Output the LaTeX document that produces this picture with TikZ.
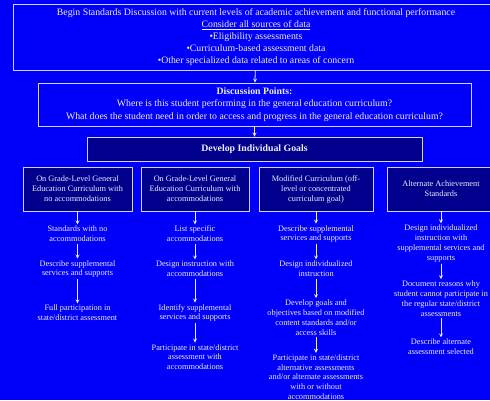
\documentclass[tikz,border=0pt]{standalone}
\usepackage{fontspec}
\setmainfont{Liberation Serif}
\usetikzlibrary{shapes,arrows,positioning}
\definecolor{pageblue}{RGB}{0,0,250}
\definecolor{navy}{RGB}{0,0,140}
\definecolor{paleline}{RGB}{210,210,255}
\definecolor{paletext}{RGB}{238,238,255}

\begin{document}
\begin{tikzpicture}[x=1pt, y=-1pt,
  mainbox/.style={draw=paleline, line width=0.9pt, text=paletext, align=center, inner sep=1pt, font=\fontsize{9.8}{12}\selectfont},
  goalbox/.style={mainbox, fill=navy, minimum height=44pt, font=\fontsize{8.3}{10}\selectfont},
  stepnode/.style={text=paletext, align=center, inner sep=1.5pt, font=\fontsize{8.3}{9.8}\selectfont},
  flow/.style={->, >=stealth, draw=paletext, line width=0.8pt}]
            \useasboundingbox (0,0) rectangle (490,400);
            \clip (0,0) rectangle (490,400);
            \fill[pageblue] (0,0) rectangle (490,400);

            \node[mainbox, minimum width=486pt, minimum height=66pt] (start) at (256,37) {Begin Standards Discussion with current levels of academic achievement and functional performance\\ \underline{Consider all sources of data}\\ •Eligibility assessments\\ •Curriculum-based assessment data\\ •Other specialized data related to areas of concern};
            \node[mainbox, minimum width=433pt, minimum height=43pt, font=\fontsize{9.8}{12.5}\selectfont] (points) at (254.5,104.5) {\textbf{Discussion Points:}\\ Where is this student performing in the general education curriculum?\\ What does the student need in order to access and progress in the general education curriculum?};
            \node[mainbox, fill=navy, minimum width=335pt, minimum height=24pt] (goals) at (254.5,149) {\textbf{Develop Individual Goals}};

            \node[goalbox, minimum width=109pt] (ongrade) at (77.5,189) {On Grade-Level General\\Education Curriculum with\\no accommodations};
            \node[goalbox, minimum width=108pt] (withacc) at (195,189) {On Grade-Level General\\Education Curriculum with\\accommodations};
            \node[goalbox, minimum width=114pt] (modified) at (316,189) {Modified Curriculum (off-\\level or concentrated\\curriculum goal)};
            \node[goalbox, minimum width=108pt] (alternate) at (441,189) {Alternate Achievement\\Standards};

            \node[stepnode] (noacc) at (77.5,234) {Standards with no\\accommodations};
            \node[stepnode] (supportsa) at (77.5,269) {Describe supplemental\\services and supports};
            \node[stepnode] (fullpart) at (77.5,313) {Full participation in\\state/district assessment};

            \node[stepnode] (listacc) at (195,234) {List specific\\accommodations};
            \node[stepnode] (designacc) at (195,269) {Design instruction with\\accommodations};
            \node[stepnode] (identify) at (195,313) {Identify supplemental\\services and supports};
            \node[stepnode] (partacc) at (195,357) {Participate in state/district\\assessment with\\accommodations};

            \node[stepnode] (supportsc) at (316,234) {Describe supplemental\\services and supports};
            \node[stepnode] (designind) at (316,269) {Design individualized\\instruction};
            \node[stepnode] (modgoals) at (316,317.5) {Develop goals and\\objectives based on modified\\content standards and/or\\access skills};
            \node[stepnode] (partalt) at (316,377) {Participate in state/district\\alternative assessments\\and/or alternate assessments\\with or without\\accommodations};

            \node[stepnode] (designsupp) at (441,243.5) {Design individualized\\instruction with\\supplemental services and\\supports};
            \node[stepnode] (reasons) at (441,298.5) {Document reasons why\\student cannot participate in\\the regular state/district\\assessments};
            \node[stepnode] (describealt) at (441,347) {Describe alternate\\assessment selected};

            \draw[flow] (start) -- (points);
            \draw[flow] (points) -- (goals);

            \draw[flow] (ongrade) -- (noacc);
            \draw[flow] (noacc) -- (supportsa);
            \draw[flow] (supportsa) -- (fullpart);

            \draw[flow] (withacc) -- (listacc);
            \draw[flow] (listacc) -- (designacc);
            \draw[flow] (designacc) -- (identify);
            \draw[flow] (identify) -- (partacc);

            \draw[flow] (modified) -- (supportsc);
            \draw[flow] (supportsc) -- (designind);
            \draw[flow] (designind) -- (modgoals);
            \draw[flow] (modgoals) -- (partalt);

            \draw[flow] (alternate) -- (designsupp);
            \draw[flow] (designsupp) -- (reasons);
            \draw[flow] (reasons) -- (describealt);
        \end{tikzpicture}
\end{document}
